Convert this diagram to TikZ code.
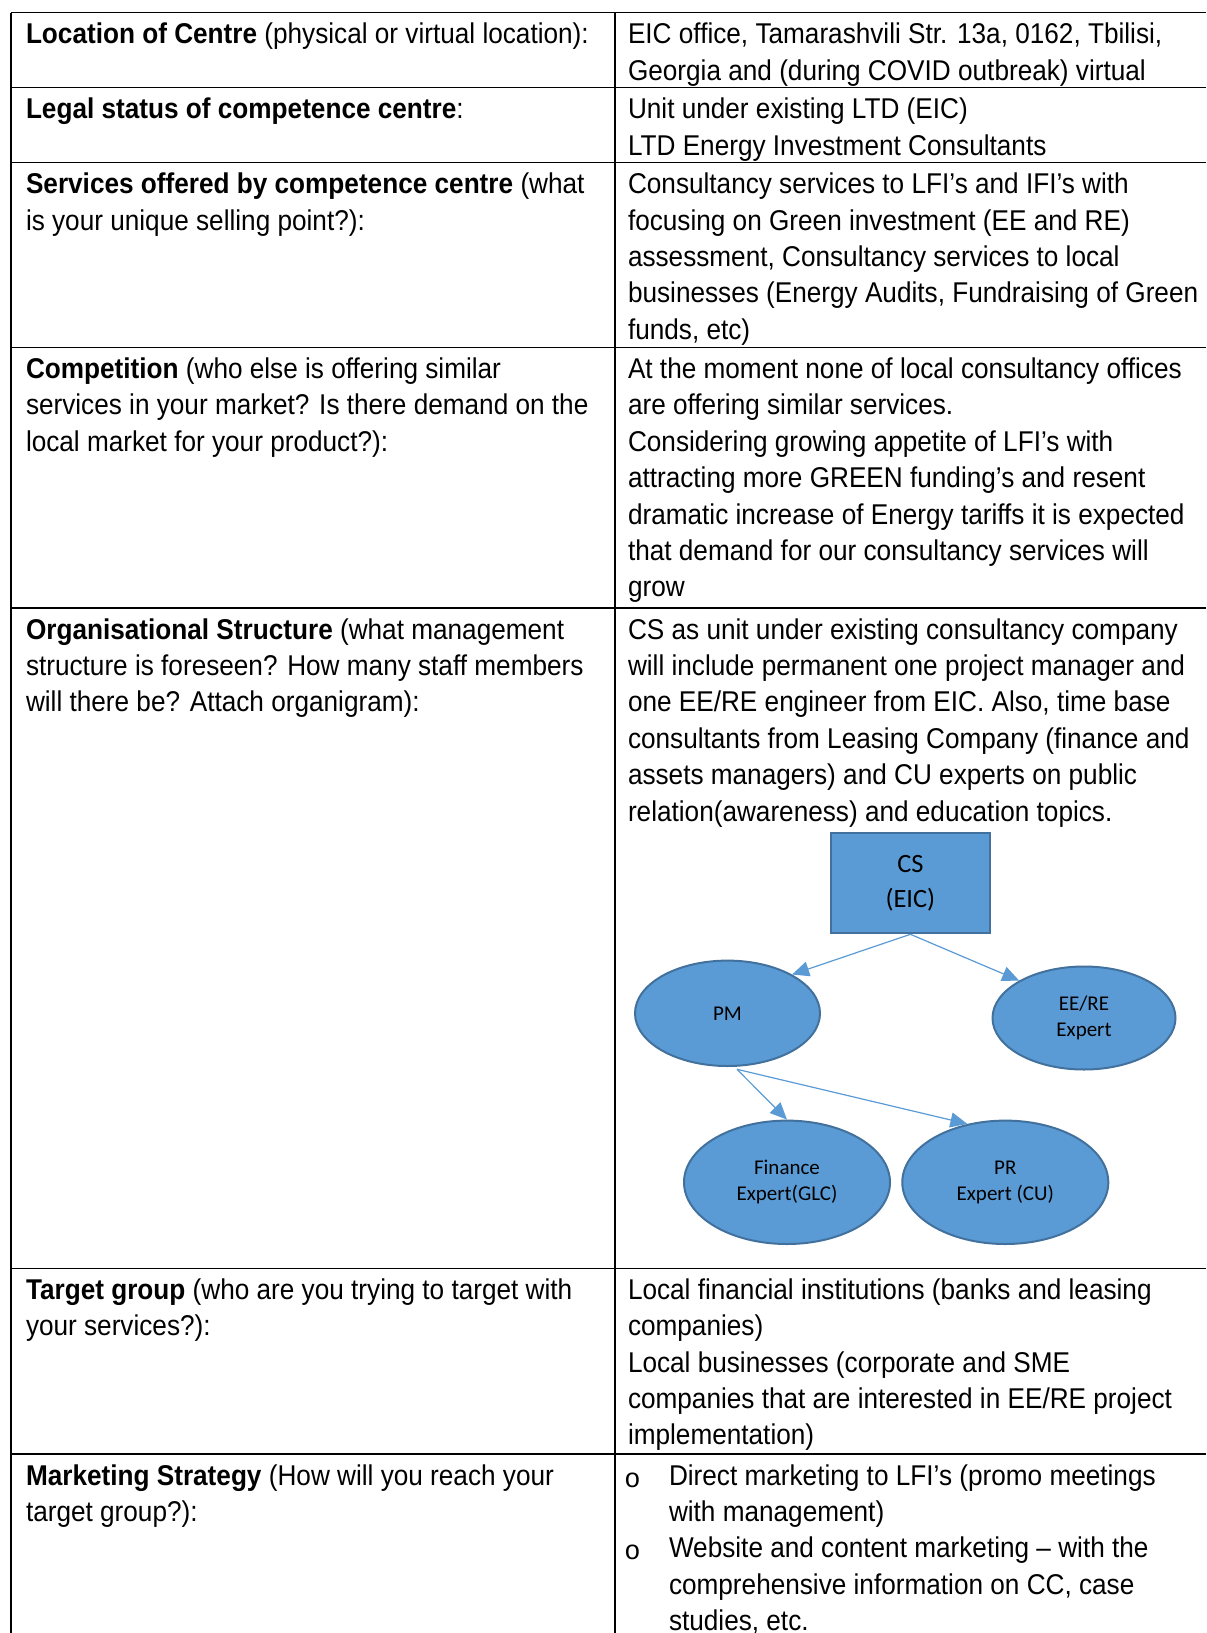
\documentclass[tikz,border=0pt]{standalone}
\usepackage{fontspec}
\setmainfont{Liberation Sans}[FakeStretch=0.915]
\newfontfamily\calib{Carlito}
\newfontfamily\bulletfont{Liberation Mono}
\usetikzlibrary{arrows.meta,shapes.geometric}
\definecolor{nodefill}{HTML}{5B9BD5}
\definecolor{nodeline}{HTML}{41719C}
\definecolor{arrowc}{HTML}{5B9BD5}
\newcommand\cellbox[1]{\vtop{\baselineskip=18.2pt\relax\lineskiplimit=-20pt\relax #1}}
\newcommand\rowline[1]{\hbox{#1}}
\begin{document}
\begin{tikzpicture}[x=0.5pt,y=-0.5pt,
  tableline/.style={line width=0.7pt,black},
  cell/.style={anchor=base west,inner sep=0pt,outer sep=0pt,font=\fontsize{14.3}{18.2}\selectfont},
  bulletnode/.style={anchor=base west,inner sep=0pt,font=\bulletfont\fontsize{13.5}{18.2}\selectfont},
  orgbox/.style={draw=nodeline,fill=nodefill,line width=1pt,rectangle,inner sep=0pt,
    minimum width=79.6pt,minimum height=50pt,align=center,
    font=\calib\fontsize{13.2}{17.3}\selectfont},
  orgell/.style={draw=nodeline,fill=nodefill,line width=1pt,ellipse,inner sep=0pt,align=center,
    font=\calib\fontsize{10.5}{13.15}\selectfont},
  orgarrow/.style={draw=arrowc,line width=0.6pt,-{Triangle[length=8.5pt,width=7.5pt]}}
]
\useasboundingbox (0,0) rectangle (1206,1633);
\fill[white] (0,0) rectangle (1206,1633);

% table rules
\draw[tableline] (11,12.7) -- (1206,12.7);
\draw[tableline] (11,87.7) -- (1206,87.7);
\draw[tableline] (11,162.7) -- (1206,162.7);
\draw[tableline] (11,347.5) -- (1206,347.5);
\draw[tableline] (11,608) -- (1206,608);
\draw[tableline] (11,1268.3) -- (1206,1268.3);
\draw[tableline] (11,1454) -- (1206,1454);
\draw[tableline] (11,12.7) -- (11,1633);
\draw[tableline] (615,12.7) -- (615,1633);

% row 1
\node[cell] (l1) at (26,43.7) {\cellbox{\rowline{\textbf{Location of Centre} (physical or virtual location):}}};
\node[cell] (r1) at (628,43.7) {\cellbox{%
  \rowline{EIC office, Tamarashvili Str. 13a, 0162, Tbilisi,}
  \rowline{Georgia and (during COVID outbreak) virtual}}};
% row 2
\node[cell] (l2) at (26,118.7) {\cellbox{\rowline{\textbf{Legal status of competence centre}:}}};
\node[cell] (r2) at (628,118.7) {\cellbox{%
  \rowline{Unit under existing LTD (EIC)}
  \rowline{LTD Energy Investment Consultants}}};
% row 3
\node[cell] (l3) at (26,193.7) {\cellbox{%
  \rowline{\textbf{Services offered by competence centre} (what}
  \rowline{is your unique selling point?):}}};
\node[cell] (r3) at (628,193.7) {\cellbox{%
  \rowline{Consultancy services to LFI’s and IFI’s with}
  \rowline{focusing on Green investment (EE and RE)}
  \rowline{assessment, Consultancy services to local}
  \rowline{businesses (Energy Audits, Fundraising of Green}
  \rowline{funds, etc)}}};
% row 4
\node[cell] (l4) at (26,378.5) {\cellbox{%
  \rowline{\textbf{Competition} (who else is offering similar}
  \rowline{services in your market? Is there demand on the}
  \rowline{local market for your product?):}}};
\node[cell] (r4) at (628,378.5) {\cellbox{%
  \rowline{At the moment none of local consultancy offices}
  \rowline{are offering similar services.}
  \rowline{Considering growing appetite of LFI’s with}
  \rowline{attracting more GREEN funding’s and resent}
  \rowline{dramatic increase of Energy tariffs it is expected}
  \rowline{that demand for our consultancy services will}
  \rowline{grow}}};
% row 5
\node[cell] (l5) at (26,639) {\cellbox{%
  \rowline{\textbf{Organisational Structure} (what management}
  \rowline{structure is foreseen? How many staff members}
  \rowline{will there be? Attach organigram):}}};
\node[cell] (r5) at (628,639) {\cellbox{%
  \rowline{CS as unit under existing consultancy company}
  \rowline{will include permanent one project manager and}
  \rowline{one EE/RE engineer from EIC. Also, time base}
  \rowline{consultants from Leasing Company (finance and}
  \rowline{assets managers) and CU experts on public}
  \rowline{relation(awareness) and education topics.}}};
% row 6
\node[cell] (l6) at (26,1299.3) {\cellbox{%
  \rowline{\textbf{Target group} (who are you trying to target with}
  \rowline{your services?):}}};
\node[cell] (r6) at (628,1299.3) {\cellbox{%
  \rowline{Local financial institutions (banks and leasing}
  \rowline{companies)}
  \rowline{Local businesses (corporate and SME}
  \rowline{companies that are interested in EE/RE project}
  \rowline{implementation)}}};
% row 7
\node[cell] (l7) at (26,1485) {\cellbox{%
  \rowline{\textbf{Marketing Strategy} (How will you reach your}
  \rowline{target group?):}}};
\node[bulletnode] (b1) at (624,1487) {o};
\node[bulletnode] (b2) at (624,1559.8) {o};
\node[cell] (r7a) at (669,1485) {\cellbox{%
  \rowline{Direct marketing to LFI’s (promo meetings}
  \rowline{with management)}}};
\node[cell] (r7b) at (669,1557.8) {\cellbox{%
  \rowline{Website and content marketing – with the}
  \rowline{comprehensive information on CC, case}
  \rowline{studies, etc.}}};

% organigram
\node[orgbox] (CS) at (910.4,883.3) {CS\\(EIC)};
\node[orgell,minimum width=92.5pt,minimum height=52.7pt] (PM) at (727.5,1013.3) {PM};
\node[orgell,minimum width=91.5pt,minimum height=51.5pt] (EE) at (1084,1018) {EE/RE\\Expert};
\node[orgell,minimum width=103pt,minimum height=61.7pt] (FIN) at (787,1182.3) {Finance\\Expert(GLC)};
\node[orgell,minimum width=103pt,minimum height=61.7pt] (PR) at (1005.3,1182.3) {PR\\Expert (CU)};
\coordinate (pmout) at (737,1069.3);
\draw[orgarrow] (CS.south) -- (PM.31);
\draw[orgarrow] (CS.south) -- (EE.150.5);
\draw[orgarrow] (pmout) -- (FIN.north);
\draw[orgarrow] (pmout) -- (PR.123.6);
\end{tikzpicture}
\end{document}
